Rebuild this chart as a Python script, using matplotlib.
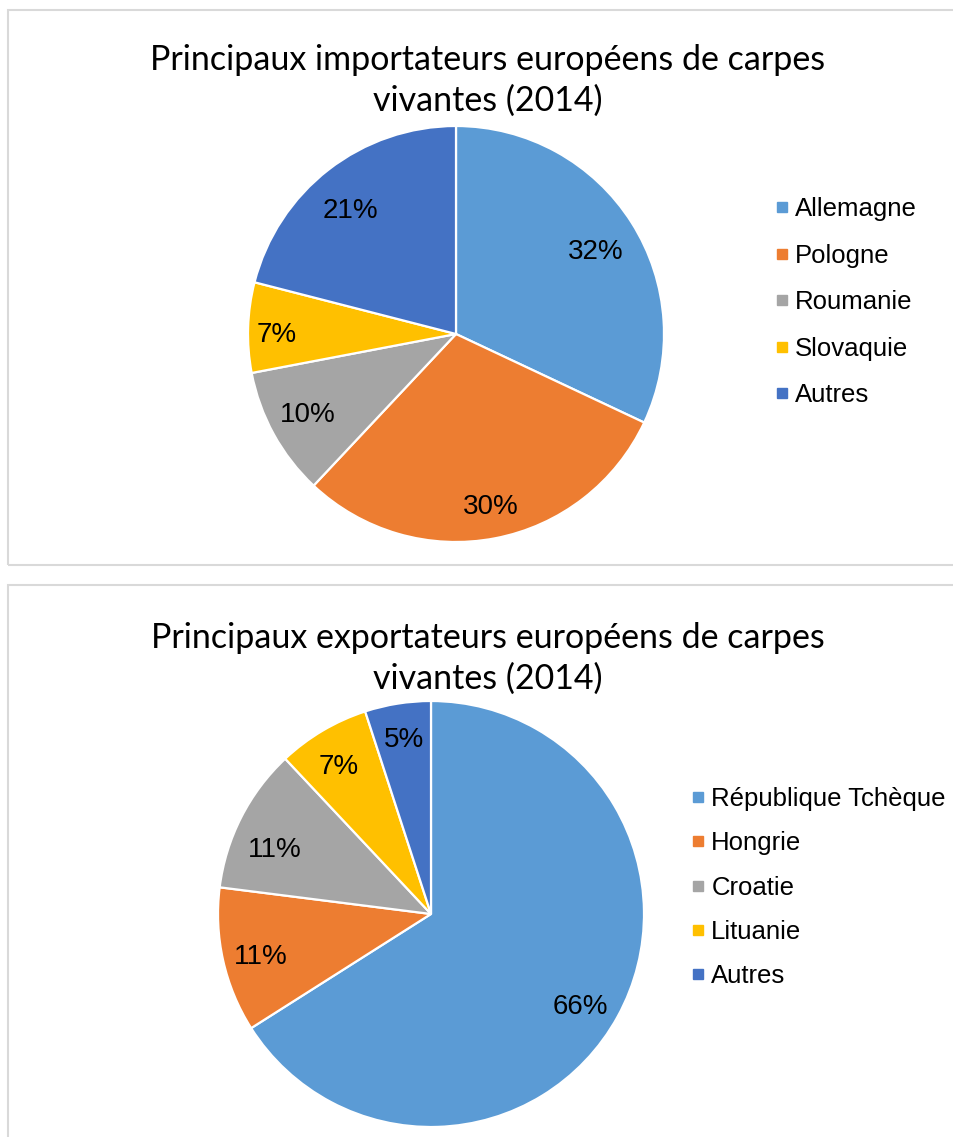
import matplotlib
matplotlib.use("Agg")
import numpy as np
import matplotlib.pyplot as plt
from matplotlib.patches import Rectangle
from matplotlib.lines import Line2D
from matplotlib.transforms import offset_copy

W, H = 954, 1137
DPI = 100

# ---- data ----
import_labels = ["Allemagne", "Pologne", "Roumanie", "Slovaquie", "Autres"]
import_values = [32, 30, 10, 7, 21]
export_labels = ["République Tchèque", "Hongrie", "Croatie", "Lituanie", "Autres"]
export_values = [66, 11, 11, 7, 5]
titles = ["Principaux importateurs européens de carpes\nvivantes (2014)",
          "Principaux exportateurs européens de carpes\nvivantes (2014)"]
colors = ["#5B9BD5", "#ED7D31", "#A5A5A5", "#FFC000", "#4472C4"]

# label placement style (radial fraction, angular tweak in degrees)
import_pct_dist = [0.785, 0.835, 0.805, 0.86, 0.79]
import_pct_dang = [-1.2, 0.7, -1.2, 1.0, 2.2]
export_pct_dist = [0.82, 0.82, 0.80, 0.825, 0.84]
export_pct_dang = [-2.2, 0.5, 3.9, 0.9, -0.3]

fig = plt.figure(figsize=(W / DPI, H / DPI), dpi=DPI)
fig.patch.set_facecolor("white")

def px_rect(x0, y0, w, h):
    return [x0 / W, 1 - (y0 + h) / H, w / W, h / H]

# chart borders
for (x0, y0, x1, y1) in [(8, 10, 970, 565), (8, 585, 970, 1150)]:
    r = Rectangle((x0 / W, 1 - y1 / H), (x1 - x0) / W, (y1 - y0) / H,
                  transform=fig.transFigure, fill=False,
                  edgecolor="#d9d9d9", linewidth=1.5, zorder=0)
    fig.patches.append(r)

def draw(values, labels, title, cx, cy, rad, title_y, leg_x, leg_y, leg_sp,
         pdist, pdang):
    ax = fig.add_axes(px_rect(cx - rad, cy - rad, 2 * rad, 2 * rad))
    wedges, texts, autotexts = ax.pie(
        values, colors=colors, startangle=90, counterclock=False,
        autopct=lambda p: f"{p:.0f}%", pctdistance=0.8,
        wedgeprops=dict(edgecolor="white", linewidth=1.6),
        textprops=dict(fontsize=20, color="#000000", family="Liberation Sans"))
    shifted = offset_copy(ax.transData, fig=fig, x=0, y=-3, units="dots")
    for w, t, d, da in zip(wedges, autotexts, pdist, pdang):
        a = np.deg2rad((w.theta1 + w.theta2) / 2 + da)
        t.set_position((d * np.cos(a), d * np.sin(a)))
        t.set_transform(shifted)
    ax.set_xlim(-1, 1)
    ax.set_ylim(-1, 1)
    ax.set_aspect("equal")
    ax.axis("off")
    fig.text(488 / W, 1 - title_y / H, title, ha="center", va="center",
             fontsize=24.5, family="Lato", color="#000000", linespacing=1.33)
    handles = [Line2D([], [], marker="s", linestyle="none", markersize=7,
                      markerfacecolor=c, markeredgecolor=c) for c in colors]
    fig.legend(handles, labels, loc="upper left",
               bbox_to_anchor=(leg_x / W, 1 - leg_y / H),
               frameon=False, handlelength=0.5, handletextpad=0.25,
               labelspacing=leg_sp, borderaxespad=0, borderpad=0,
               prop=dict(family="Liberation Sans", size=18.5))

draw(import_values, import_labels, titles[0], 456, 334, 208, 80, 776, 197, 0.88,
     import_pct_dist, import_pct_dang)
draw(export_values, export_labels, titles[1], 431, 914, 213, 658, 692, 787, 0.79,
     export_pct_dist, export_pct_dang)

fig.savefig("out.png", dpi=DPI, facecolor="white")
